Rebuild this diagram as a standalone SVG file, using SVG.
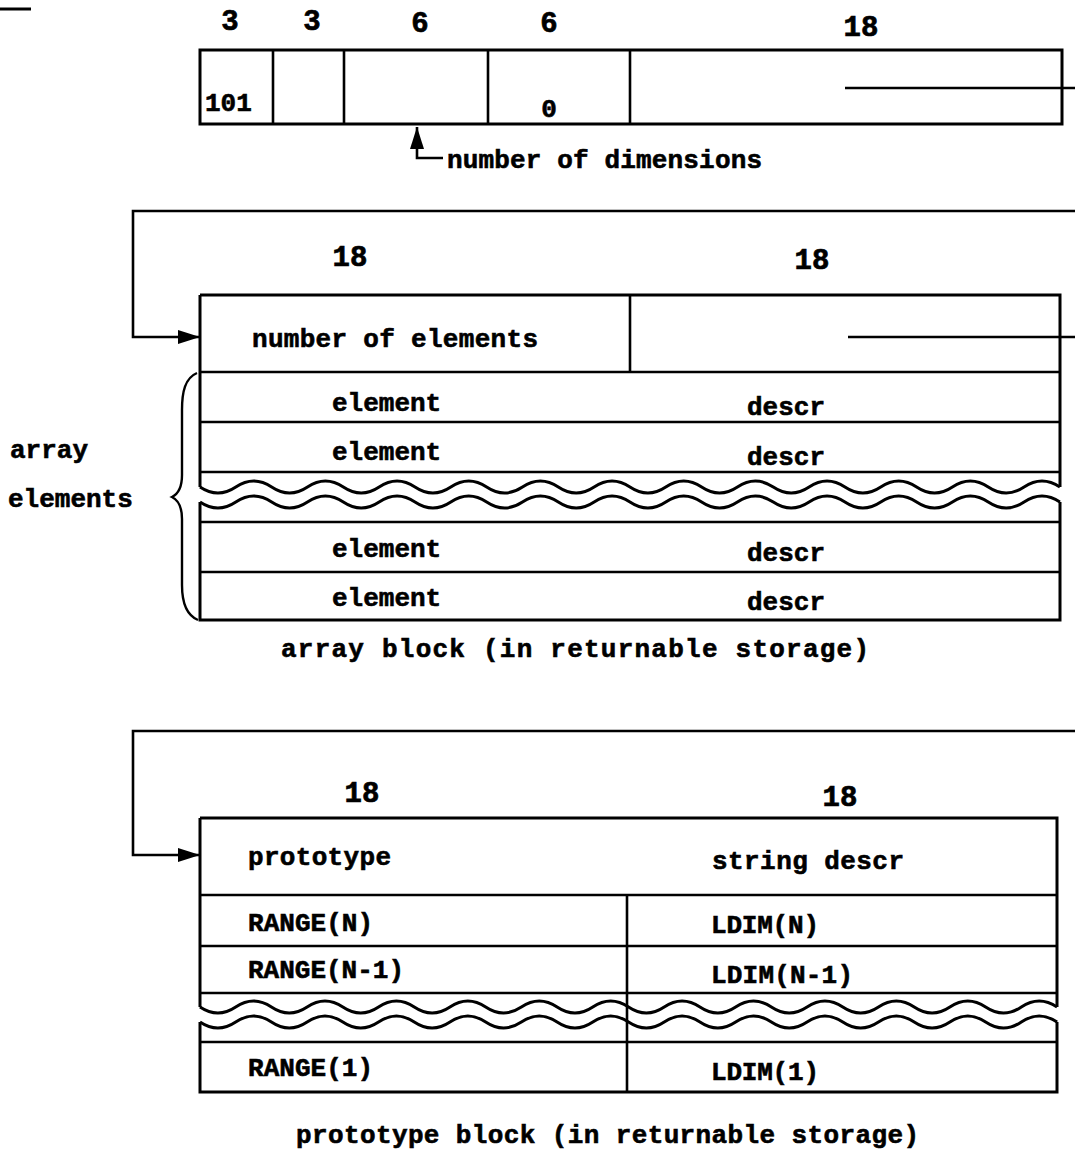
<svg xmlns="http://www.w3.org/2000/svg" width="1075" height="1154" viewBox="0 0 1075 1154">
<style>
.t{font-family:"Liberation Mono","DejaVu Sans Mono",monospace;font-weight:bold;font-size:26px;fill:#000;stroke:#000;stroke-width:0.6}
.n{font-family:"Liberation Mono","DejaVu Sans Mono",monospace;font-weight:bold;font-size:29px;fill:#000;stroke:#000;stroke-width:0.7;text-anchor:middle}
.c{font-family:"Liberation Mono","DejaVu Sans Mono",monospace;font-weight:bold;font-size:26px;fill:#000;stroke:#000;stroke-width:0.6}
.b{fill:none;stroke:#000;stroke-width:3}
.r{fill:none;stroke:#000;stroke-width:2.6}
.w{fill:none;stroke:#000;stroke-width:3}
.k{fill:none;stroke:#000;stroke-width:2.4}
</style>
<defs>
<marker id="arr" viewBox="0 0 22 14" refX="22" refY="7" markerWidth="22" markerHeight="14" orient="auto" markerUnits="userSpaceOnUse">
<path d="M0 0 L22 7 L0 14 z" fill="#000"/>
</marker>
</defs>
<rect width="1075" height="1154" fill="#fff"/>
<line x1="0" y1="9" x2="31" y2="9" stroke="#000" stroke-width="3"/>

<g id="header-word">
<rect class="b" x="200" y="50" width="862" height="74"/>
<line class="r" x1="273" y1="50" x2="273" y2="124"/>
<line class="r" x1="344" y1="50" x2="344" y2="124"/>
<line class="r" x1="488" y1="50" x2="488" y2="124"/>
<line class="r" x1="630" y1="50" x2="630" y2="124"/>
<text class="n" x="230" y="30">3</text>
<text class="n" x="312" y="30">3</text>
<text class="n" x="420" y="32">6</text>
<text class="n" x="549" y="32">6</text>
<text class="n" x="861" y="36">18</text>
<text class="t" x="205" y="111">101</text>
<text class="t" x="549" y="117" text-anchor="middle">0</text>
<text class="t" x="447" y="168" textLength="315">number of dimensions</text>
</g>

<g id="array-block">
<path class="b" d="M200 295 H1060 V487 M1060 502 V620 H200 V502 M200 487 V295"/>
<line class="r" x1="630" y1="295" x2="630" y2="372"/>
<line class="r" x1="200" y1="372" x2="1060" y2="372"/>
<line class="r" x1="200" y1="422" x2="1060" y2="422"/>
<line class="r" x1="200" y1="472" x2="1060" y2="472"/>
<line class="r" x1="200" y1="522" x2="1060" y2="522"/>
<line class="r" x1="200" y1="572" x2="1060" y2="572"/>
<path class="w" d="M200 487 q17.92 12 35.83 0 t35.83 0 t35.83 0 t35.83 0 t35.83 0 t35.83 0 t35.83 0 t35.83 0 t35.83 0 t35.83 0 t35.83 0 t35.83 0 t35.83 0 t35.83 0 t35.83 0 t35.83 0 t35.83 0 t35.83 0 t35.83 0 t35.83 0 t35.83 0 t35.83 0 t35.83 0 t35.83 0"/>
<path class="w" d="M200 502 q17.92 12 35.83 0 t35.83 0 t35.83 0 t35.83 0 t35.83 0 t35.83 0 t35.83 0 t35.83 0 t35.83 0 t35.83 0 t35.83 0 t35.83 0 t35.83 0 t35.83 0 t35.83 0 t35.83 0 t35.83 0 t35.83 0 t35.83 0 t35.83 0 t35.83 0 t35.83 0 t35.83 0 t35.83 0"/>
<text class="n" x="350" y="266">18</text>
<text class="n" x="812" y="269">18</text>
<text class="t" x="252" y="347" textLength="286">number of elements</text>
<text class="t" x="332" y="411">element</text>
<text class="t" x="747" y="415">descr</text>
<text class="t" x="332" y="460">element</text>
<text class="t" x="747" y="465">descr</text>
<text class="t" x="332" y="557">element</text>
<text class="t" x="747" y="561">descr</text>
<text class="t" x="332" y="606">element</text>
<text class="t" x="747" y="610">descr</text>
<text class="c" x="281" y="657" textLength="588">array block (in returnable storage)</text>
</g>

<g id="array-elements-brace">
<path class="k" d="M197 373 C185 378 182 392 182 410 L182 475 C182 488 178 494 172 497 C178 500 182 506 182 519 L182 585 C182 603 186 615 198 620"/>
<text class="t" x="10" y="458">array</text>
<text class="t" x="8" y="507">elements</text>
</g>

<g id="prototype-block">
<path class="b" d="M200 818 H1057 V1007 M1057 1022 V1092 H200 V1022 M200 1007 V818"/>
<line class="r" x1="200" y1="895" x2="1057" y2="895"/>
<line class="r" x1="200" y1="946" x2="1057" y2="946"/>
<line class="r" x1="200" y1="993" x2="1057" y2="993"/>
<line class="r" x1="200" y1="1042" x2="1057" y2="1042"/>
<line class="r" x1="627" y1="895" x2="627" y2="1092"/>
<path class="w" d="M200 1007 q17.85 12 35.71 0 t35.71 0 t35.71 0 t35.71 0 t35.71 0 t35.71 0 t35.71 0 t35.71 0 t35.71 0 t35.71 0 t35.71 0 t35.71 0 t35.71 0 t35.71 0 t35.71 0 t35.71 0 t35.71 0 t35.71 0 t35.71 0 t35.71 0 t35.71 0 t35.71 0 t35.71 0 t35.71 0"/>
<path class="w" d="M200 1022 q17.85 12 35.71 0 t35.71 0 t35.71 0 t35.71 0 t35.71 0 t35.71 0 t35.71 0 t35.71 0 t35.71 0 t35.71 0 t35.71 0 t35.71 0 t35.71 0 t35.71 0 t35.71 0 t35.71 0 t35.71 0 t35.71 0 t35.71 0 t35.71 0 t35.71 0 t35.71 0 t35.71 0 t35.71 0"/>
<text class="n" x="362" y="802">18</text>
<text class="n" x="840" y="806">18</text>
<text class="t" x="248" y="865" textLength="143">prototype</text>
<text class="t" x="712" y="869" textLength="192">string descr</text>
<text class="t" x="248" y="931" textLength="125">RANGE(N)</text>
<text class="t" x="711" y="933" textLength="108">LDIM(N)</text>
<text class="t" x="248" y="978" textLength="156">RANGE(N-1)</text>
<text class="t" x="711" y="983" textLength="142">LDIM(N-1)</text>
<text class="t" x="248" y="1076" textLength="125">RANGE(1)</text>
<text class="t" x="711" y="1080" textLength="108">LDIM(1)</text>
<text class="c" x="296" y="1143" textLength="623">prototype block (in returnable storage)</text>
</g>

<g id="connectors">
<line class="r" x1="845" y1="88" x2="1075" y2="88"/>
<path class="r" d="M443 158 H417 V127" marker-end="url(#arr)"/>
<line class="r" x1="848" y1="337" x2="1075" y2="337"/>
<path class="r" d="M1075 211 H133 V337 H200" marker-end="url(#arr)"/>
<path class="r" d="M1075 731 H133 V855 H200" marker-end="url(#arr)"/>
</g>
</svg>
